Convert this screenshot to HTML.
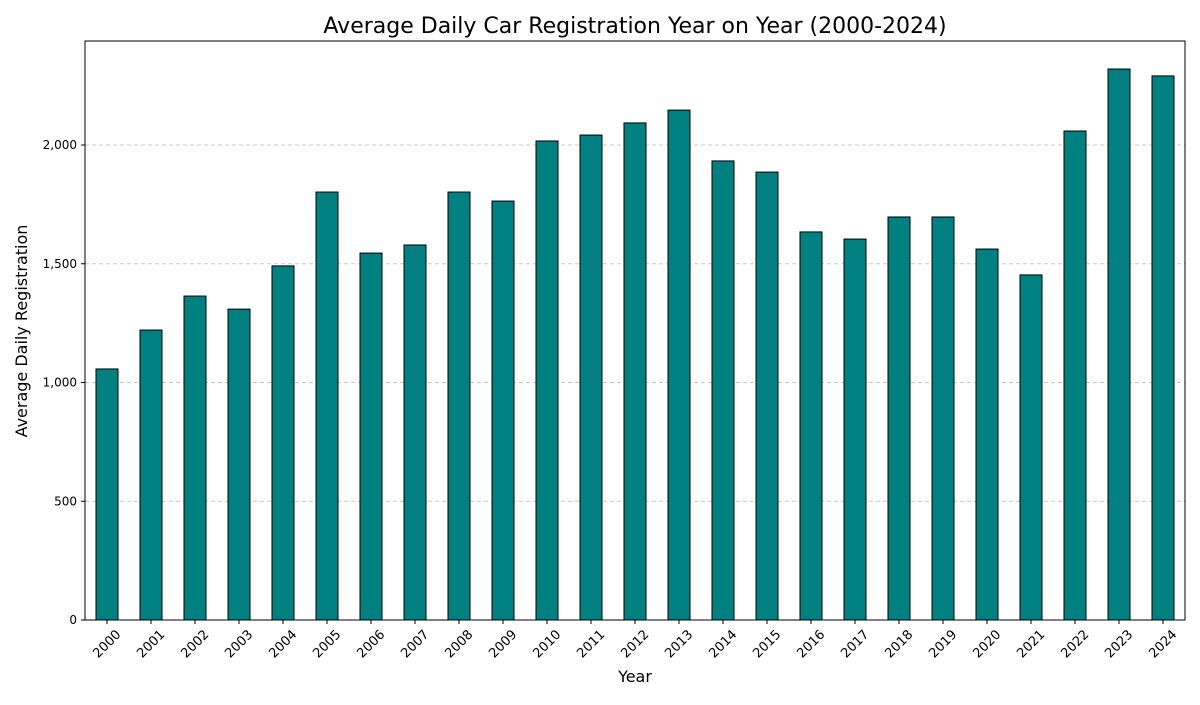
<!DOCTYPE html>
<html><head><meta charset="utf-8">
<style>
body{margin:0;background:#fff;font-family:"Liberation Sans","DejaVu Sans",sans-serif;}
svg text{font-family:"DejaVu Sans","Liberation Sans",sans-serif;}
</style></head>
<body>
<svg id="chart" width="1200" height="700" xmlns="http://www.w3.org/2000/svg"></svg>
<script>
const categories = ["2000","2001","2002","2003","2004","2005","2006","2007","2008","2009","2010","2011","2012","2013","2014","2015","2016","2017","2018","2019","2020","2021","2022","2023","2024"];
const values = [1057,1221,1364,1309,1491,1802,1545,1579,1802,1764,2017,2042,2093,2147,1933,1886,1634,1604,1697,1697,1562,1453,2059,2320,2291];
const yTicks = [0,500,1000,1500,2000];
const yTickLabels = ["0","500","1,000","1,500","2,000"];

const L=85,R=1185,T=41,B=620,yMax=2438;
const svg=document.getElementById('chart');
const NS='http://www.w3.org/2000/svg';
const xs=i=>L+(i+0.5)*(R-L)/categories.length;
const ys=v=>B-v/yMax*(B-T);
function mk(tag,attrs,parent){const e=document.createElementNS(NS,tag);for(const k in attrs)e.setAttribute(k,attrs[k]);(parent||svg).appendChild(e);return e;}

const title=mk('text',{x:635,y:33,'text-anchor':'middle','font-size':22});


title.textContent='Average Daily Car Registration Year on Year (2000-2024)';

yTicks.forEach((t,i)=>{
  const y=ys(t);
  if(t>0){const g=mk('line',{x1:L,x2:R,y1:y,y2:y,stroke:'#c8c8c8','stroke-dasharray':'4,3','stroke-width':1});
  
  }
  mk('line',{x1:L-4,x2:L,y1:y,y2:y,stroke:'#000'});
  const tx=mk('text',{x:L-8,y:y+4,'text-anchor':'end','font-size':12});
  
  
  tx.textContent=yTickLabels[i];
});

const bw=(R-L)/categories.length*0.5;
categories.forEach((c,i)=>{
  const x=xs(i),y=ys(values[i]);
  const r=mk('rect',{x:x-bw/2,y:y,width:bw,height:B-y,fill:'#008080',stroke:'#000','stroke-width':1});
  
  
  mk('line',{x1:x,x2:x,y1:B,y2:B+4,stroke:'#000'});
  const cy=B+24;
  const tx=mk('text',{x:x,y:cy+4,'text-anchor':'middle','font-size':13,transform:`rotate(-45 ${x} ${cy})`});
  
  
  tx.textContent=c;
});

const frame=mk('rect',{x:L,y:T,width:R-L,height:B-T,fill:'none',stroke:'#000','stroke-width':1});



const xl=mk('text',{x:635,y:682,'text-anchor':'middle','font-size':16});


xl.textContent='Year';
const yl=mk('text',{x:27,y:331,'text-anchor':'middle','font-size':16,transform:'rotate(-90 27 331)'});


yl.textContent='Average Daily Registration';
</script>
</body></html>
